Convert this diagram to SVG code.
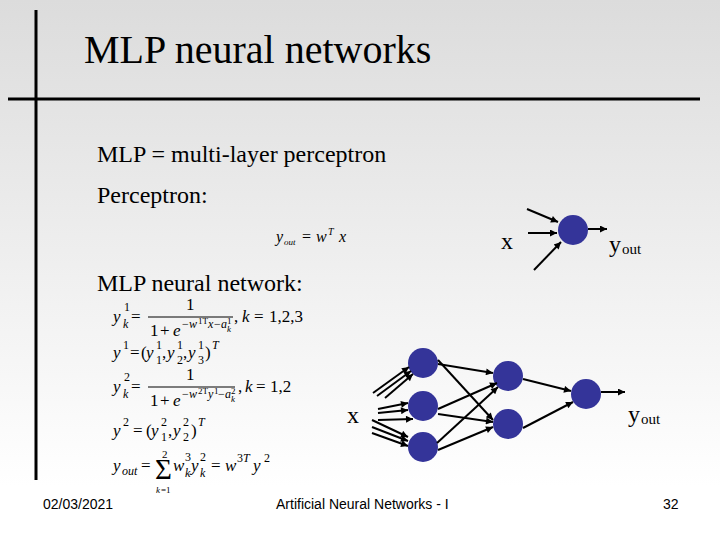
<svg xmlns="http://www.w3.org/2000/svg" width="720" height="540" viewBox="0 0 720 540">
<defs>
<linearGradient id="bg" x1="0" y1="0" x2="0" y2="1">
<stop offset="0" stop-color="#dcdcdc"/>
<stop offset="0.9" stop-color="#ffffff"/>
<stop offset="1" stop-color="#ffffff"/>
</linearGradient>
<marker id="ah" viewBox="0 0 10 10" refX="10" refY="5" markerWidth="9" markerHeight="7" markerUnits="userSpaceOnUse" orient="auto">
<path d="M0,0 L10,5 L0,10 z" fill="#000"/>
</marker>
</defs>
<style>
.t{font-family:"Liberation Serif","Times New Roman",serif;fill:#000}
.f{font-family:"Liberation Sans",Arial,sans-serif;font-size:14px;fill:#000}
.m{font-family:"Liberation Serif","Times New Roman",serif;fill:#000}
.b{font-size:17px}
.s{font-size:12px}
.xs{font-size:9px}
.i{font-style:italic}
.n{fill:#343499}
.c line{stroke:#000;stroke-width:2;marker-end:url(#ah)}
.rule{stroke:#000;stroke-width:3}
.fr{stroke:#000;stroke-width:1}
</style>
<rect width="720" height="540" fill="url(#bg)"/>
<line class="rule" x1="36" y1="10" x2="36" y2="480"/>
<line class="rule" x1="8" y1="99" x2="700" y2="99"/>

<text class="t" x="84" y="63" font-size="40">MLP neural networks</text>
<text class="t" x="97" y="162" font-size="24">MLP = multi-layer perceptron</text>
<text class="t" x="97" y="203" font-size="24">Perceptron:</text>
<text class="t" x="97" y="291" font-size="24">MLP neural network:</text>

<!-- perceptron formula -->
<g id="perceptron-formula">
<text class="m i" x="276" y="242" font-size="16">y</text>
<text class="m i" x="284" y="245" font-size="9">out</text>
<text class="m" x="302" y="242" font-size="16">=</text>
<text class="m i" x="316" y="242" font-size="16">w</text>
<text class="m i" x="328" y="235" font-size="10">T</text>
<text class="m i" x="339" y="242" font-size="16">x</text>
</g>

<!-- MLP formulas -->
<g id="formulas">
<!-- row 1 -->
<text class="m b i" x="113" y="322">y</text>
<text class="m s" x="124" y="311">1</text>
<text class="m s i" x="123" y="328">k</text>
<text class="m b" x="131" y="322">=</text>
<text class="m b" x="186" y="310">1</text>
<line class="fr" x1="148" y1="317" x2="233" y2="317"/>
<text class="m b" x="150" y="336">1</text>
<text class="m b" x="160" y="336">+</text>
<text class="m b i" x="173" y="336">e</text>
<text class="m s" x="182" y="328">−</text>
<text class="m s i" x="189" y="328">w</text>
<text class="m xs" x="198" y="324">1T</text>
<text class="m s i" x="208" y="328">x</text>
<text class="m s" x="214" y="328">−</text>
<text class="m s i" x="221" y="328">a</text>
<text class="m xs i" x="227" y="332">k</text>
<text class="m xs" x="227" y="324">1</text>
<text class="m b" x="234" y="322">,</text>
<text class="m b i" x="242" y="322">k</text>
<text class="m b" x="254" y="322">=</text>
<text class="m b" x="269" y="322" font-size="16">1,2,3</text>
<!-- row 2 -->
<text class="m b i" x="113" y="358">y</text>
<text class="m s" x="123" y="349">1</text>
<text class="m b" x="130" y="358">=</text>
<text class="m b" x="141" y="358">(</text>
<text class="m b i" x="146" y="358">y</text>
<text class="m s" x="156" y="364">1</text>
<text class="m s" x="156" y="349">1</text>
<text class="m b" x="162" y="358">,</text>
<text class="m b i" x="167" y="358">y</text>
<text class="m s" x="177" y="364">2</text>
<text class="m s" x="177" y="349">1</text>
<text class="m b" x="183" y="358">,</text>
<text class="m b i" x="188" y="358">y</text>
<text class="m s" x="198" y="364">3</text>
<text class="m s" x="198" y="349">1</text>
<text class="m b" x="205" y="358">)</text>
<text class="m s i" x="212" y="349">T</text>
<!-- row 3 -->
<text class="m b i" x="113" y="392">y</text>
<text class="m s" x="124" y="381">2</text>
<text class="m s i" x="123" y="398">k</text>
<text class="m b" x="131" y="392">=</text>
<text class="m b" x="186" y="380">1</text>
<line class="fr" x1="148" y1="387" x2="235" y2="387"/>
<text class="m b" x="150" y="406">1</text>
<text class="m b" x="160" y="406">+</text>
<text class="m b i" x="173" y="406">e</text>
<text class="m s" x="182" y="398">−</text>
<text class="m s i" x="189" y="398">w</text>
<text class="m xs" x="198" y="394">2T</text>
<text class="m s i" x="208" y="398">y</text>
<text class="m xs" x="214" y="394">1</text>
<text class="m s" x="218" y="398">−</text>
<text class="m s i" x="225" y="398">a</text>
<text class="m xs i" x="231" y="402">k</text>
<text class="m xs" x="231" y="394">2</text>
<text class="m b" x="238" y="392">,</text>
<text class="m b i" x="245" y="392">k</text>
<text class="m b" x="256" y="392">=</text>
<text class="m b" x="270" y="392" font-size="16">1,2</text>
<!-- row 4 -->
<text class="m b i" x="113" y="436">y</text>
<text class="m s" x="123" y="426">2</text>
<text class="m b" x="133" y="436">=</text>
<text class="m b" x="146" y="436">(</text>
<text class="m b i" x="151" y="436">y</text>
<text class="m s" x="161" y="441">1</text>
<text class="m s" x="161" y="426">2</text>
<text class="m b" x="168" y="436">,</text>
<text class="m b i" x="173" y="436">y</text>
<text class="m s" x="183" y="441">2</text>
<text class="m s" x="183" y="426">2</text>
<text class="m b" x="191" y="436">)</text>
<text class="m s i" x="198" y="426">T</text>
<!-- row 5 -->
<text class="m b i" x="113" y="471">y</text>
<text class="m s i" x="122" y="475">out</text>
<text class="m b" x="141" y="471">=</text>
<text class="m" x="155" y="479" style="font-size:29px">Σ</text>
<text class="m" x="162" y="458" style="font-size:11px">2</text>
<text class="m xs i" x="156" y="493">k</text>
<text class="m xs" x="161" y="493">=1</text>
<text class="m b i" x="173" y="471">w</text>
<text class="m s" x="185" y="461">3</text>
<text class="m s i" x="185" y="477">k</text>
<text class="m b i" x="191" y="471">y</text>
<text class="m s" x="200" y="461">2</text>
<text class="m s i" x="200" y="477">k</text>
<text class="m b" x="211" y="471">=</text>
<text class="m b i" x="225" y="471">w</text>
<text class="m s" x="237" y="462">3</text>
<text class="m s i" x="243" y="462">T</text>
<text class="m b i" x="253" y="471">y</text>
<text class="m s" x="264" y="462">2</text>
</g>

<!-- perceptron diagram -->
<g id="p-x"><text class="t" x="501" y="249" font-size="24">x</text></g>
<g id="p-node"><circle class="n" cx="573" cy="230" r="15"/></g>
<g id="p-yout"><text class="t" x="609" y="252" font-size="24">y</text><text class="t" x="622" y="254" font-size="15">out</text></g>

<!-- MLP network -->
<g id="n-x"><text class="t" x="347" y="423" font-size="24">x</text></g>
<g id="h1a"><circle class="n" cx="423" cy="363" r="15"/></g>
<g id="h1b"><circle class="n" cx="423" cy="406" r="15"/></g>
<g id="h1c"><circle class="n" cx="423" cy="447" r="15"/></g>
<g id="h2a"><circle class="n" cx="508" cy="376" r="15"/></g>
<g id="h2b"><circle class="n" cx="508" cy="424" r="15"/></g>
<g id="out"><circle class="n" cx="586" cy="394" r="15"/></g>
<g id="n-yout"><text class="t" x="628" y="422" font-size="24">y</text><text class="t" x="641" y="424" font-size="15">out</text></g>

<g id="connectors" class="c">
<line x1="527" y1="209" x2="558" y2="222"/>
<line x1="528" y1="233" x2="557" y2="233"/>
<line x1="534" y1="270" x2="561" y2="242"/>
<line x1="588" y1="229" x2="607" y2="229"/>

<line x1="373" y1="393" x2="409" y2="367"/>
<line x1="377" y1="396" x2="411" y2="371"/>
<line x1="385" y1="398" x2="413" y2="374"/>
<line x1="378" y1="409" x2="408" y2="403"/>
<line x1="378" y1="413" x2="408" y2="410"/>
<line x1="378" y1="420" x2="413" y2="419"/>
<line x1="372" y1="420" x2="408" y2="437"/>
<line x1="372" y1="427" x2="408" y2="441"/>
<line x1="372" y1="433" x2="408" y2="446"/>

<line x1="438" y1="364" x2="493" y2="373"/>
<line x1="438" y1="360" x2="493" y2="420"/>
<line x1="438" y1="409" x2="497" y2="383"/>
<line x1="438" y1="414" x2="493" y2="422"/>
<line x1="437" y1="443" x2="498" y2="387"/>
<line x1="438" y1="450" x2="493" y2="427"/>
<line x1="523" y1="379" x2="571" y2="391"/>
<line x1="523" y1="428" x2="573" y2="402"/>
<line x1="601" y1="392" x2="625" y2="392"/>
</g>

<text class="f" x="43" y="509">02/03/2021</text>
<text class="f" x="276" y="509">Artificial Neural Networks - I</text>
<text class="f" x="663" y="509">32</text>
</svg>
